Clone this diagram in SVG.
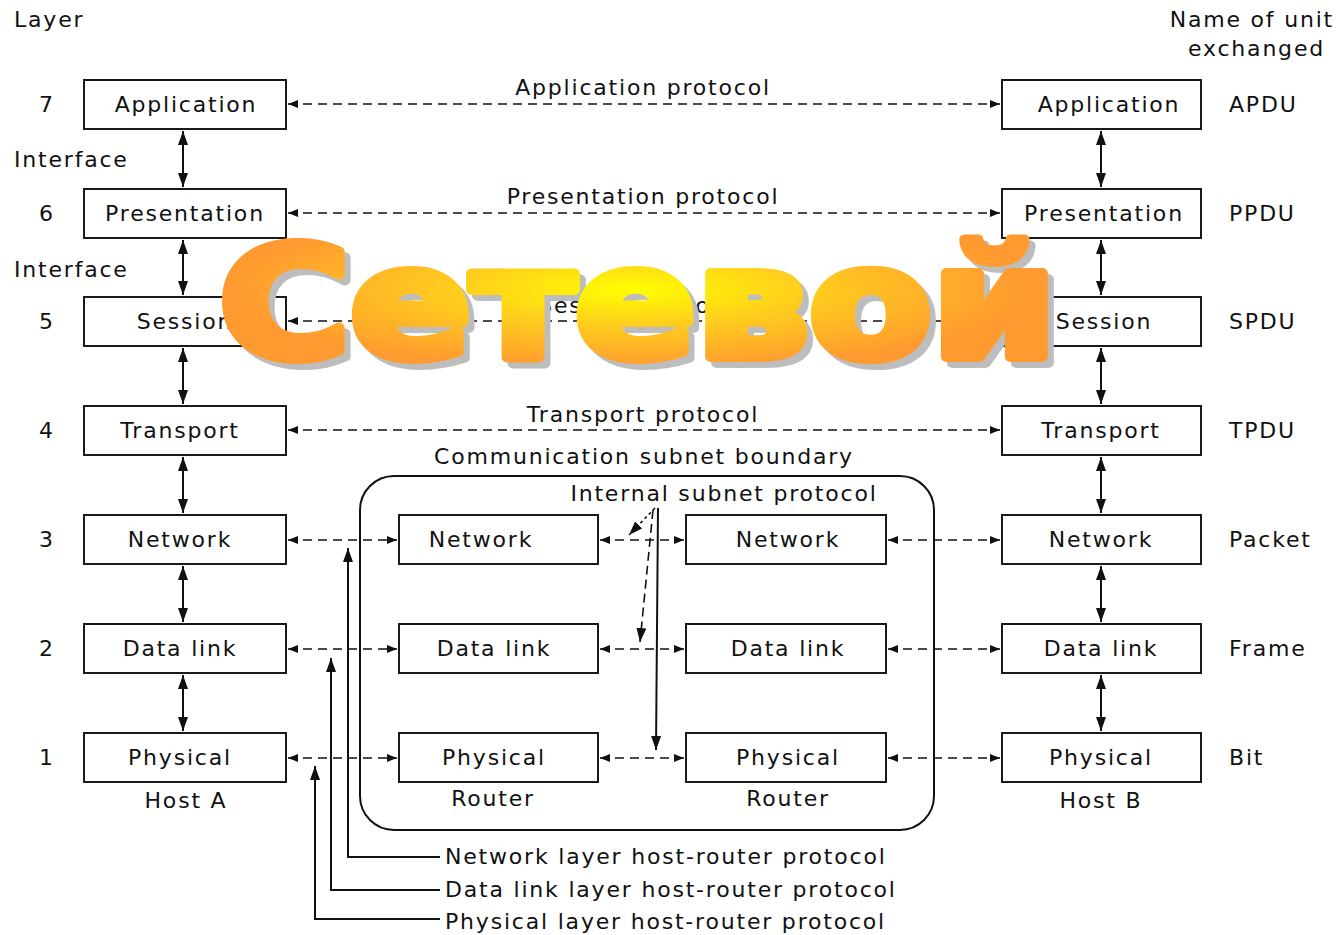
<svg xmlns="http://www.w3.org/2000/svg" width="1341" height="935" viewBox="0 0 1341 935">
<style>
text{font-family:"DejaVu Sans","Liberation Sans",sans-serif;font-size:22px;fill:#111;letter-spacing:1.8px}
.c{text-anchor:middle}
.e{text-anchor:end}
.box{fill:#fff;stroke:#1a1a1a;stroke-width:2}
.d{fill:none;stroke:#111;stroke-width:1.6;stroke-dasharray:9 6}
.s{fill:none;stroke:#111;stroke-width:2}
text.big{font-family:"DejaVu Sans","Liberation Sans",sans-serif;font-weight:bold;font-size:153px;letter-spacing:0;stroke-width:10px;stroke-linejoin:round}
text.sh{fill:#bdbdbd;stroke:#bdbdbd}
text.fg{fill:url(#g);stroke:url(#g)}
</style>
<defs>
<marker id="ah" viewBox="0 0 10 8" refX="10" refY="4" markerWidth="10" markerHeight="8" markerUnits="userSpaceOnUse" orient="auto-start-reverse">
<path d="M0,0 L10,4 L0,8 z" fill="#111"/>
</marker>
<marker id="av" viewBox="0 0 14 10" refX="14" refY="5" markerWidth="14" markerHeight="10" markerUnits="userSpaceOnUse" orient="auto-start-reverse">
<path d="M0,0 L14,5 L0,10 z" fill="#111"/>
</marker>
<radialGradient id="g" gradientUnits="userSpaceOnUse" cx="630" cy="290" r="400" gradientTransform="translate(630 290) scale(1 0.2) translate(-630 -290)">
<stop offset="0" stop-color="#ffff00"/>
<stop offset="0.45" stop-color="#ffcc1e"/>
<stop offset="1" stop-color="#ff9a30"/>
</radialGradient>
</defs>
<rect width="1341" height="935" fill="#fff"/>

<g id="headers">
<text x="14" y="27">Layer</text>
<text x="1334" y="27" class="e">Name of unit</text>
<text x="1325" y="56" class="e">exchanged</text>
<text x="14" y="167">Interface</text>
<text x="14" y="277">Interface</text>
<text x="47" y="112" class="c">7</text>
<text x="47" y="221" class="c">6</text>
<text x="47" y="329" class="c">5</text>
<text x="47" y="438" class="c">4</text>
<text x="47" y="547" class="c">3</text>
<text x="47" y="656" class="c">2</text>
<text x="47" y="765" class="c">1</text>
<text x="1229" y="112">APDU</text>
<text x="1229" y="221">PPDU</text>
<text x="1229" y="329">SPDU</text>
<text x="1229" y="438">TPDU</text>
<text x="1229" y="547">Packet</text>
<text x="1229" y="656">Frame</text>
<text x="1229" y="765">Bit</text>
</g>

<g id="subnet">
<rect x="360" y="476" width="574" height="354" rx="34" ry="34" fill="none" stroke="#111" stroke-width="2"/>
<text x="644" y="464" class="c">Communication subnet boundary</text>
</g>

<g id="hostA">
<rect class="box" x="84" y="80" width="202" height="49"/><text x="186" y="112" class="c">Application</text>
<rect class="box" x="84" y="189" width="202" height="49"/><text x="185" y="221" class="c">Presentation</text>
<rect class="box" x="84" y="297" width="202" height="49"/><text x="185" y="329" class="c">Session</text>
<rect class="box" x="84" y="406" width="202" height="49"/><text x="180" y="438" class="c">Transport</text>
<rect class="box" x="84" y="515" width="202" height="49"/><text x="180" y="547" class="c">Network</text>
<rect class="box" x="84" y="624" width="202" height="49"/><text x="180" y="656" class="c">Data link</text>
<rect class="box" x="84" y="733" width="202" height="49"/><text x="180" y="765" class="c">Physical</text>
<text x="186" y="808" class="c">Host A</text>
</g>

<g id="router1">
<rect class="box" x="399" y="515" width="199" height="49"/><text x="481" y="547" class="c">Network</text>
<rect class="box" x="399" y="624" width="199" height="49"/><text x="494" y="656" class="c">Data link</text>
<rect class="box" x="399" y="733" width="199" height="49"/><text x="494" y="765" class="c">Physical</text>
<text x="493" y="806" class="c">Router</text>
</g>

<g id="router2">
<rect class="box" x="686" y="515" width="200" height="49"/><text x="788" y="547" class="c">Network</text>
<rect class="box" x="686" y="624" width="200" height="49"/><text x="788" y="656" class="c">Data link</text>
<rect class="box" x="686" y="733" width="200" height="49"/><text x="788" y="765" class="c">Physical</text>
<text x="788" y="806" class="c">Router</text>
</g>

<g id="hostB">
<rect class="box" x="1002" y="80" width="199" height="49"/><text x="1109" y="112" class="c">Application</text>
<rect class="box" x="1002" y="189" width="199" height="49"/><text x="1104" y="221" class="c">Presentation</text>
<rect class="box" x="1002" y="297" width="199" height="49"/><text x="1104" y="329" class="c">Session</text>
<rect class="box" x="1002" y="406" width="199" height="49"/><text x="1101" y="438" class="c">Transport</text>
<rect class="box" x="1002" y="515" width="199" height="49"/><text x="1101" y="547" class="c">Network</text>
<rect class="box" x="1002" y="624" width="199" height="49"/><text x="1101" y="656" class="c">Data link</text>
<rect class="box" x="1002" y="733" width="199" height="49"/><text x="1101" y="765" class="c">Physical</text>
<text x="1101" y="808" class="c">Host B</text>
</g>

<g id="connectors">
<path class="d" d="M288,104 H1000" marker-start="url(#ah)" marker-end="url(#ah)"/>
<path class="d" d="M288,213 H1000" marker-start="url(#ah)" marker-end="url(#ah)"/>
<path class="d" d="M288,321 H1000" marker-start="url(#ah)" marker-end="url(#ah)"/>
<path class="d" d="M288,430 H1000" marker-start="url(#ah)" marker-end="url(#ah)"/>
<path class="d" d="M288,540 H397" marker-start="url(#ah)" marker-end="url(#ah)"/>
<path class="d" d="M288,649 H397" marker-start="url(#ah)" marker-end="url(#ah)"/>
<path class="d" d="M288,758 H397" marker-start="url(#ah)" marker-end="url(#ah)"/>
<path class="d" d="M600,540 H684" marker-start="url(#ah)" marker-end="url(#ah)"/>
<path class="d" d="M600,649 H684" marker-start="url(#ah)" marker-end="url(#ah)"/>
<path class="d" d="M600,758 H684" marker-start="url(#ah)" marker-end="url(#ah)"/>
<path class="d" d="M888,540 H1000" marker-start="url(#ah)" marker-end="url(#ah)"/>
<path class="d" d="M888,649 H1000" marker-start="url(#ah)" marker-end="url(#ah)"/>
<path class="d" d="M888,758 H1000" marker-start="url(#ah)" marker-end="url(#ah)"/>

<path class="s" d="M183,131 V187" marker-start="url(#av)" marker-end="url(#av)"/>
<path class="s" d="M183,240 V295" marker-start="url(#av)" marker-end="url(#av)"/>
<path class="s" d="M183,348 V404" marker-start="url(#av)" marker-end="url(#av)"/>
<path class="s" d="M183,457 V513" marker-start="url(#av)" marker-end="url(#av)"/>
<path class="s" d="M183,566 V622" marker-start="url(#av)" marker-end="url(#av)"/>
<path class="s" d="M183,675 V731" marker-start="url(#av)" marker-end="url(#av)"/>
<path class="s" d="M1101,131 V187" marker-start="url(#av)" marker-end="url(#av)"/>
<path class="s" d="M1101,240 V295" marker-start="url(#av)" marker-end="url(#av)"/>
<path class="s" d="M1101,348 V404" marker-start="url(#av)" marker-end="url(#av)"/>
<path class="s" d="M1101,457 V513" marker-start="url(#av)" marker-end="url(#av)"/>
<path class="s" d="M1101,566 V622" marker-start="url(#av)" marker-end="url(#av)"/>
<path class="s" d="M1101,675 V731" marker-start="url(#av)" marker-end="url(#av)"/>

<path class="s" d="M348,548 V857 H440" marker-start="url(#av)"/>
<path class="s" d="M331,658 V890 H440" marker-start="url(#av)"/>
<path class="s" d="M315,766 V919 H440" marker-start="url(#av)"/>

<path fill="none" stroke="#111" stroke-width="1.6" stroke-dasharray="3 3" d="M655,508 L629,535" marker-end="url(#av)"/>
<path fill="none" stroke="#111" stroke-width="1.6" stroke-dasharray="9 5" d="M653,510 L640,642" marker-end="url(#av)"/>
<path class="s" d="M658,508 L656,750" marker-end="url(#av)"/>
</g>

<g id="labels">
<text x="643" y="95" class="c">Application protocol</text>
<text x="643" y="204" class="c">Presentation protocol</text>
<text x="643" y="313" class="c">Session protocol</text>
<text x="643" y="422" class="c">Transport protocol</text>
<text x="724" y="501" class="c">Internal subnet protocol</text>
<text x="445" y="864">Network layer host-router protocol</text>
<text x="445" y="897">Data link layer host-router protocol</text>
<text x="445" y="929">Physical layer host-router protocol</text>
</g>

<g id="title">
<text class="big sh" x="219" y="357" textLength="838" lengthAdjust="spacingAndGlyphs" transform="translate(6 6)">Сетевой</text>
<text class="big fg" x="219" y="357" textLength="838" lengthAdjust="spacingAndGlyphs">Сетевой</text>
</g>
</svg>
